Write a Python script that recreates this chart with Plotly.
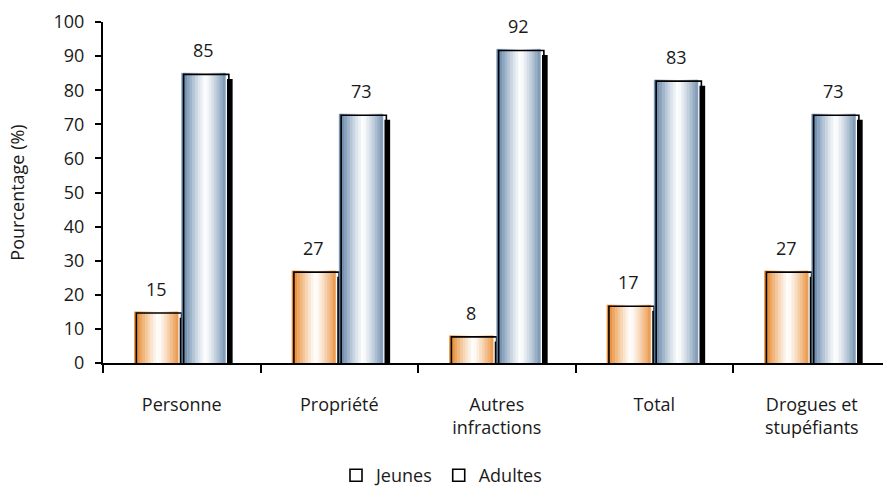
import plotly.graph_objects as go

categories = ["Personne", "Propriété", "Autres<br>infractions", "Total", "Drogues et<br>stupéfiants"]
jeunes = [15, 27, 8, 17, 27]
adultes = [85, 73, 92, 83, 73]
series_names = ["Jeunes", "Adultes"]
y_ticks = [0, 10, 20, 30, 40, 50, 60, 70, 80, 90, 100]

FONT = "Open Sans"
FS = 18
TXT = "#1a1a1a"
W = 0.277          # bar width (category units)
N = 16             # gradient strips per bar
PX_X = 157.5       # pixels per category

def mix(c1, c2, t):
    return "rgb(%d,%d,%d)" % tuple(round(a + (b - a) * t) for a, b in zip(c1, c2))

styles = [
    {"name": series_names[0], "vals": jeunes, "off": -0.300, "edge": (232, 136, 44)},
    {"name": series_names[1], "vals": adultes, "off": 0.000, "edge": (100, 133, 168)},
]

fig = go.Figure()
for s in styles:
    o = s["off"]
    # shadow
    fig.add_trace(go.Bar(
        x=categories, y=s["vals"], base=-1.7,
        offset=o + W + 0.010, width=0.036,
        marker=dict(color="black", line=dict(width=0)),
        showlegend=False, hoverinfo="skip"))
    # gradient strips
    for i in range(N):
        t = (i + 0.5) / N
        d = min(1.0, abs(t - 0.55) / 0.5)
        col = mix((255, 255, 255), s["edge"], d ** 1.2)
        fig.add_trace(go.Bar(
            x=categories, y=s["vals"],
            offset=o + i * W / N, width=W / N,
            marker=dict(color=col, line=dict(color=col, width=0.6)),
            showlegend=False, hoverinfo="skip"))
    # outline
    fig.add_trace(go.Bar(
        x=categories, y=s["vals"], base=-0.35,
        offset=o + 0.012, width=W + 0.010,
        marker=dict(color="rgba(0,0,0,0)", line=dict(color="black", width=1.6)),
        name=s["name"], showlegend=True, hoverinfo="skip"))

annotations = []
for s in styles:
    xs = (s["off"] + W / 2) * PX_X
    for c, v in zip(categories, s["vals"]):
        annotations.append(dict(
            x=c, y=v, text=str(v), showarrow=False, xshift=xs, yshift=23,
            font=dict(family=FONT, size=FS, color=TXT)))

fig.update_layout(
    width=883, height=494,
    margin=dict(l=103, r=0, t=22, b=131),
    paper_bgcolor="white", plot_bgcolor="white",
    barmode="overlay",
    font=dict(family=FONT, size=FS, color=TXT),
    annotations=annotations,
    legend=dict(
        orientation="h", xref="container", yref="container",
        x=0.5, xanchor="center", y=-0.014, yanchor="bottom",
        font=dict(family=FONT, size=FS, color=TXT),
        itemwidth=30, traceorder="normal"),
    xaxis=dict(
        type="category", range=[-0.5, 4.452],
        showline=True, linecolor="black", linewidth=2,
        ticks="outside", ticklen=8, tickwidth=1.5, tickcolor="black",
        tickson="boundaries", showgrid=False, zeroline=False,
        tickfont=dict(family=FONT, size=FS, color=TXT),
        ticklabelstandoff=24),
    yaxis=dict(
        range=[0, 100], tickvals=y_ticks,
        showline=True, linecolor="black", linewidth=2,
        ticks="outside", ticklen=6, tickwidth=1.5, tickcolor="black",
        showgrid=False, zeroline=False,
        tickfont=dict(family=FONT, size=FS, color=TXT),
        ticklabelstandoff=7,
        title=dict(text="Pourcentage (%)", font=dict(family=FONT, size=FS, color=TXT), standoff=24)),
)

fig.write_html("out.html", config={"displayModeBar": False},
               post_script="document.body.style.margin='0';")
